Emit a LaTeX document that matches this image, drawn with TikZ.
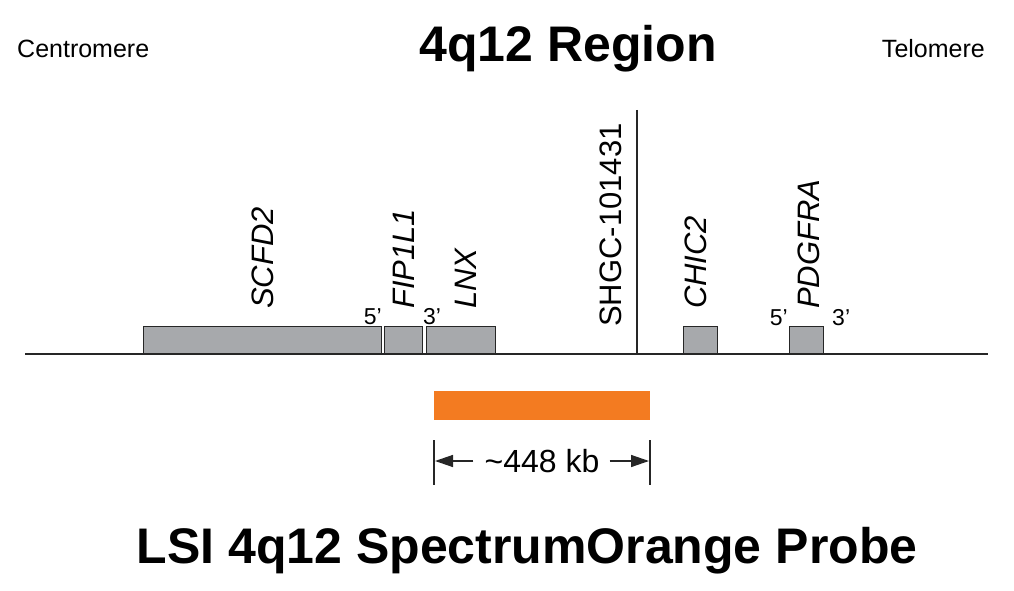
\documentclass[tikz,border=0pt]{standalone}
\usepackage{fontspec}
\setmainfont{Liberation Sans}
\usetikzlibrary{arrows.meta}
\definecolor{genegray}{HTML}{A7A9AC}
\definecolor{probeorange}{HTML}{F37B21}

\begin{document}
\begin{tikzpicture}[x=1pt,y=-1pt]
    \tikzstyle{genebox}=[draw=black!85, line width=1.4pt, fill=genegray, inner sep=0pt,
                         minimum height=27pt, anchor=south west]
    \tikzstyle{genelabel}=[rotate=90, anchor=west, inner sep=0pt,
                           font=\fontsize{31}{31}\selectfont\itshape]
    \tikzstyle{endlabel}=[inner sep=0pt, font=\fontsize{23}{23}\selectfont]
    \tikzstyle{armlabel}=[inner sep=0pt, font=\fontsize{25}{25}\selectfont]
    \tikzstyle{title}=[inner sep=0pt, font=\fontsize{50}{50}\selectfont\bfseries]

    \useasboundingbox (0,0) rectangle (1014,591);

    % chromosome
    \coordinate (cen) at (25,354);
    \coordinate (tel) at (988,354);
    \draw[line width=1.4pt, black!85] (cen) -- (tel);

    \node[title, anchor=base] (region) at (568,62) {4q12 Region};
    \node[armlabel, anchor=base west] (centro) at (17,58) {Centromere};
    \node[armlabel, anchor=base east] (telo) at (985,58) {Telomere};

    % genes
    \node[genebox, minimum width=238pt] (scfd2)  at (143,354) {};
    \node[genebox, minimum width=38pt]  (fip1l1) at (384,354) {};
    \node[genebox, minimum width=69pt]  (lnx)    at (426,354) {};
    \node[genebox, minimum width=34pt]  (chic2)  at (683,354) {};
    \node[genebox, minimum width=34pt]  (pdgfra) at (789,354) {};

    \node[genelabel] (scfd2-l)  at (263,309) {SCFD2};
    \node[genelabel] (fip1l1-l) at (404,309) {FIP1L1};
    \node[genelabel] (lnx-l)    at (466,309) {LNX};
    \node[genelabel] (chic2-l)  at (696,309) {CHIC2};
    \node[genelabel] (pdgfra-l) at (809,309) {PDGFRA};

    \node[endlabel, anchor=base east] (fip-5) at (382,324) {5’};
    \node[endlabel, anchor=base west] (fip-3) at (423,324) {3’};
    \node[endlabel, anchor=base east] (pdg-5) at (788,325) {5’};
    \node[endlabel, anchor=base west] (pdg-3) at (832,325) {3’};

    % marker
    \coordinate (shgc-top) at (637,110);
    \coordinate (shgc-bot) at (637,354);
    \draw[line width=1.4pt, black!85] (shgc-top) -- (shgc-bot);
    \node[genelabel, font=\fontsize{31}{31}\selectfont] (shgc-l) at (611,327) {SHGC-101431};

    % probe
    \node[fill=probeorange, inner sep=0pt, minimum width=216pt, minimum height=29pt,
          anchor=north west] (probe) at (434,391) {};

    \coordinate (ltick-a) at (434,440);
    \coordinate (ltick-b) at (434,485);
    \coordinate (rtick-a) at (650,440);
    \coordinate (rtick-b) at (650,485);
    \draw[line width=1.4pt, black!85] (ltick-a) -- (ltick-b);
    \draw[line width=1.4pt, black!85] (rtick-a) -- (rtick-b);

    \node[inner sep=0pt, font=\fontsize{32}{32}\selectfont] (size) at (542,461) {\textasciitilde448 kb};
    \coordinate (larr) at (435,461);
    \coordinate (rarr) at (649,461);
    \draw[line width=1.4pt, black!85, -{Triangle[length=18pt,width=12pt]}]
        ([xshift=-11pt]size.west) -- (larr);
    \draw[line width=1.4pt, black!85, -{Triangle[length=18pt,width=12pt]}]
        ([xshift=10pt]size.east) -- (rarr);

    \node[title, anchor=base] (probe-t) at (527,563) {LSI 4q12 SpectrumOrange Probe};
\end{tikzpicture}
\end{document}
